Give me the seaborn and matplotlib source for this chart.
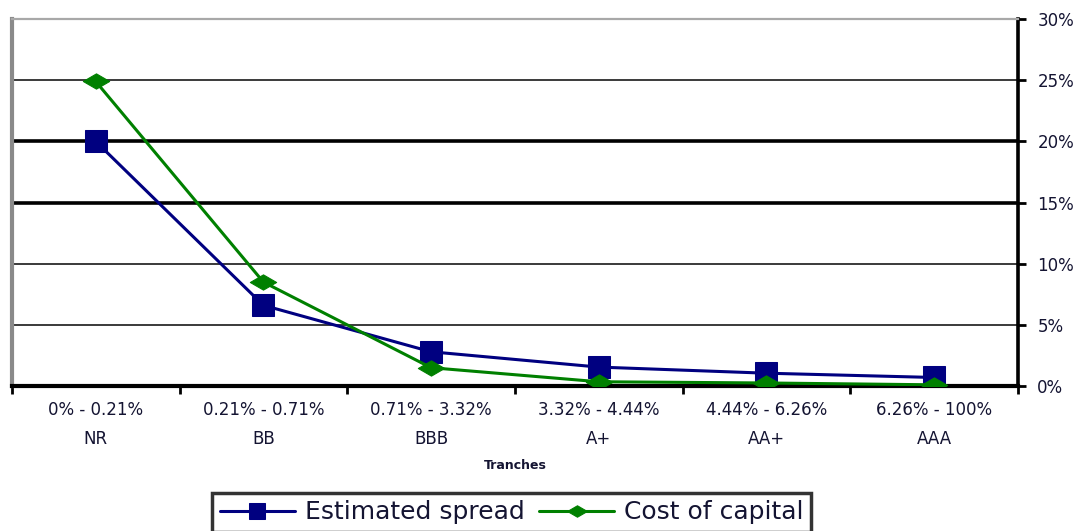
import numpy as np
import pandas as pd
import matplotlib
matplotlib.use("Agg")
import matplotlib.pyplot as plt
from matplotlib.path import Path
from matplotlib.ticker import FixedLocator, PercentFormatter
import seaborn as sns

# Tranche definitions and series values (percent)
tranche_ranges = ["0% - 0.21%", "0.21% - 0.71%", "0.71% - 3.32%",
                  "3.32% - 4.44%", "4.44% - 6.26%", "6.26% - 100%"]
tranche_ratings = ["NR", "BB", "BBB", "A+", "AA+", "AAA"]
estimated_spread = [20.0, 6.6, 2.8, 1.55, 1.05, 0.7]
cost_of_capital = [24.9, 8.5, 1.5, 0.35, 0.25, 0.1]
y_ticks = [0, 5, 10, 15, 20, 25, 30]

sns.set_theme(style="white")
plt.rcParams["font.family"] = ["DejaVu Sans"]

pos = np.arange(len(tranche_ratings))
df = pd.DataFrame({
    "pos": np.concatenate([pos, pos]),
    "value": estimated_spread + cost_of_capital,
    "series": ["Estimated spread"] * len(pos) + ["Cost of capital"] * len(pos),
})

fig = plt.figure(figsize=(10.84, 5.31), dpi=100)
ax = fig.add_axes([0.011, 0.273, 0.928, 0.691])

# Gridlines: heavier at 15% and 20%
heavy = {15, 20}
for t in y_ticks[1:-1]:
    if t in heavy:
        ax.axhline(t, color="black", lw=2.6, zorder=1)
    else:
        ax.axhline(t, color="#3a3a3a", lw=1.4, zorder=1)

flat_diamond = Path([(-1, 0), (0, 0.58), (1, 0), (0, -0.58), (-1, 0)],
                    [Path.MOVETO, Path.LINETO, Path.LINETO, Path.LINETO, Path.CLOSEPOLY])

sns.lineplot(data=df[df.series == "Estimated spread"], x="pos", y="value",
             color="#000080", lw=2.2, marker="s", markersize=16,
             markeredgecolor="#000080", label="Estimated spread", ax=ax, zorder=3)
sns.lineplot(data=df[df.series == "Cost of capital"], x="pos", y="value",
             color="#008000", lw=2.2, marker=flat_diamond, markersize=19,
             markeredgecolor="#008000", label="Cost of capital", ax=ax, zorder=4)

ax.set_xlim(-0.5, len(pos) - 0.5)
ax.set_ylim(0, 30)

# Right-hand percent axis
ax.yaxis.tick_right()
ax.yaxis.set_major_locator(FixedLocator(y_ticks))
ax.yaxis.set_major_formatter(PercentFormatter(decimals=0))
ax.tick_params(axis="y", which="major", direction="out", length=6, width=2,
               color="black", labelsize=12, labelcolor="#141432", pad=8, right=True, left=False)

# Category labels centred, tick marks on category boundaries
ax.set_xticks(pos)
ax.set_xticklabels([f"{r}\n{t}" for r, t in zip(tranche_ranges, tranche_ratings)],
                   linespacing=1.75)
ax.xaxis.set_minor_locator(FixedLocator(np.arange(-0.5, len(pos), 1.0)))
ax.tick_params(axis="x", which="major", length=0, labelsize=12,
               labelcolor="#141432", pad=11)
ax.tick_params(axis="x", which="minor", bottom=True, direction="out",
               length=6, width=2, color="black")
ax.set_xlabel("Tranches", fontsize=9, fontweight="bold", color="#141432", labelpad=8)
ax.set_ylabel("")

for side, (c, w) in {"left": ("#8a8a8a", 3.0), "top": ("#a8a8a8", 1.6),
                     "bottom": ("black", 3.0), "right": ("black", 2.6)}.items():
    ax.spines[side].set_visible(True)
    ax.spines[side].set_color(c)
    ax.spines[side].set_linewidth(w)

ax.legend_.remove()
handles, labels = ax.get_legend_handles_labels()
leg = fig.legend(handles, labels, loc="upper center", bbox_to_anchor=(0.472, 0.072),
                 ncol=2, fontsize=18, frameon=True, fancybox=False,
                 handlelength=3.0, columnspacing=0.6, handletextpad=0.4,
                 borderpad=0.3, borderaxespad=0, markerscale=0.75)
leg.get_frame().set_edgecolor("black")
leg.get_frame().set_linewidth(2.5)
for txt in leg.get_texts():
    txt.set_color("#141432")

fig.savefig("out.png", dpi=100)
